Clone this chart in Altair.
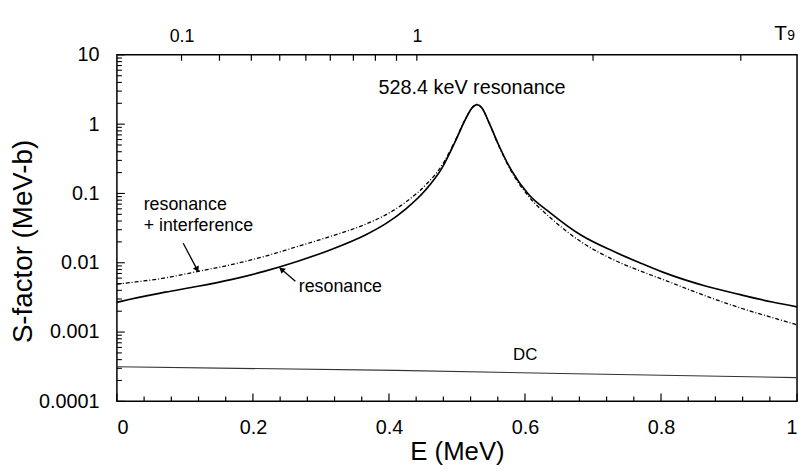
import altair as alt
import pandas as pd

FONT = "Liberation Sans"

# ---- curves ----
res_E = [0.0, 0.0077, 0.0709, 0.1194, 0.1678, 0.2164, 0.2649, 0.3134, 0.3668, 0.3959, 0.425,
         0.4541, 0.4785, 0.4978, 0.5124, 0.5221, 0.5294, 0.5367, 0.5463, 0.5608, 0.5803, 0.6045,
         0.6386, 0.6822, 0.7307, 0.7696, 0.8035, 0.8665, 0.915, 0.9636, 1.0]
res_S = [0.00268, 0.0028, 0.00376, 0.00458, 0.00572, 0.00751, 0.01044, 0.0153, 0.0256, 0.037, 0.060,
         0.113, 0.238, 0.571, 1.17, 1.71, 1.91, 1.71, 1.10, 0.513, 0.213, 0.099,
         0.0513, 0.0251, 0.0145, 0.0099, 0.00726, 0.00458, 0.00349, 0.00271, 0.00231]

int_E = res_E
int_S = [0.0049, 0.00501, 0.00604, 0.00751, 0.00936, 0.0123, 0.0171, 0.0239, 0.0364, 0.0495, 0.0755,
         0.133, 0.26, 0.59, 1.19, 1.73, 1.92, 1.72, 1.09, 0.50, 0.205, 0.093,
         0.0436, 0.0201, 0.011, 0.0076, 0.0057, 0.0033, 0.00225, 0.00162, 0.00127]

dc_E = [0.0, 0.41, 0.673, 1.0]
dc_S = [0.000315, 0.00028, 0.00025, 0.00022]

# ---- axes ----
x_major = [0.0, 0.2, 0.4, 0.6, 0.8, 1.0]
x_minor = [0.04, 0.08, 0.12, 0.16, 0.24, 0.28, 0.32, 0.36, 0.44, 0.48, 0.52, 0.56,
           0.64, 0.68, 0.72, 0.76, 0.84, 0.88, 0.92, 0.96]
y_major = [0.0001, 0.001, 0.01, 0.1, 1, 10]
y_minor = [k * d for d in [0.0001, 0.001, 0.01, 0.1, 1] for k in [2, 3, 4, 5, 6, 7, 8, 9]]
t9_ticks = [0.1, 0.2, 0.3, 0.4, 0.5, 0.6, 0.7, 0.8, 0.9, 1, 2, 3]
t9_labels = [0.1, 1]
T9_COEF = 0.441          # E(MeV) = coef * T9^(2/3)
T9_MAX = (1.0 / T9_COEF) ** 1.5

# ---- annotations ----
ann_text = ["528.4 keV resonance", "resonance", "+ interference", "resonance", "DC"]
ann_E = [0.5221, 0.0393, 0.0393, 0.2674, 0.6004]
ann_S = [2.68, 0.0572, 0.0287, 0.00373, 0.000389]
ann_align = ["center", "left", "left", "left", "center"]
ann_size = [20, 18, 18, 18, 17]

arrow_E = [0.0975, 0.2624]
arrow_S = [0.0191, 0.0054]
arrow_E2 = [0.1194, 0.2397]
arrow_S2 = [0.00751, 0.0084]
head_E = [0.1173, 0.2431]
head_S = [0.0082, 0.00787]
head_angle = [152, 311]

W, H = 687, 350

xs = alt.Scale(domain=[0, 1], nice=False, zero=False)
ys = alt.Scale(type="log", domain=[0.0001, 10], nice=False)

df_res = pd.DataFrame({"E": res_E, "S": res_S})
df_int = pd.DataFrame({"E": int_E, "S": int_S})
df_dc = pd.DataFrame({"E": dc_E, "S": dc_S})

x_axis = alt.Axis(values=x_major, format="~g", ticks=False, domain=False, grid=False,
                  labelFontSize=20, labelPadding=16, labelFont=FONT, labelColor="black",
                  title="E (MeV)", titleFontSize=26, titleFont=FONT, titleFontWeight="normal",
                  titleColor="black", titleY=59, titleBaseline="alphabetic",
                  titleAlign="center")
y_axis = alt.Axis(values=y_major, format="~g", ticks=False, domain=False, grid=False,
                  labelFontSize=20, labelPadding=18, labelFont=FONT, labelColor="black",
                  title="S-factor (MeV-b)", titleFontSize=28, titleFont=FONT,
                  titleFontWeight="normal", titleColor="black",
                  titleX=-94, titleY=188, titleAlign="center", titleBaseline="middle",
                  titleAngle=270)

X = alt.X("E:Q", scale=xs, axis=x_axis)
Y = alt.Y("S:Q", scale=ys, axis=y_axis)

solid = alt.Chart(df_res).mark_line(color="black", strokeWidth=1.7, interpolate="monotone").encode(
    x=X, y=Y)
dashed = alt.Chart(df_int).mark_line(color="black", strokeWidth=1.3, strokeDash=[4, 2, 1, 2],
                                     interpolate="monotone").encode(x=X, y=Y)
dc = alt.Chart(df_dc).mark_line(color="#333333", strokeWidth=1.1).encode(x=X, y=Y)


# inward ticks
def xticks(vals, length):
    d = pd.DataFrame({"E": vals})
    return alt.Chart(d).mark_rule(color="black", strokeWidth=1.2).encode(
        x=X, y=alt.value(H), y2=alt.value(H - length))


def yticks(vals, length):
    d = pd.DataFrame({"S": vals})
    return alt.Chart(d).mark_rule(color="black", strokeWidth=1.1).encode(
        y=Y, x=alt.value(0), x2=alt.value(length))


df_ann = pd.DataFrame({"t": ann_text, "E": ann_E, "S": ann_S, "a": ann_align, "fs": ann_size})
ann_c = alt.Chart(df_ann[df_ann["a"] == "center"]).mark_text(
    font=FONT, color="black", align="center", baseline="alphabetic").encode(
    x=X, y=Y, text="t:N", size=alt.Size("fs:Q", scale=None))
ann_l = alt.Chart(df_ann[df_ann["a"] == "left"]).mark_text(
    font=FONT, color="black", align="left", baseline="alphabetic").encode(
    x=X, y=Y, text="t:N", size=alt.Size("fs:Q", scale=None))

df_arrow = pd.DataFrame({"E": arrow_E, "S": arrow_S, "E2": arrow_E2, "S2": arrow_S2})
shafts = alt.Chart(df_arrow).mark_rule(color="black", strokeWidth=1.3).encode(
    x=X, y=Y, x2="E2:Q", y2="S2:Q")
df_head = pd.DataFrame({"E": head_E, "S": head_S, "ang": head_angle})
heads = alt.Chart(df_head).mark_point(shape="triangle", filled=True, color="black", size=45,
                                      opacity=1).encode(
    x=X, y=Y, angle=alt.Angle("ang:Q", scale=None))

t_letter = alt.Chart(pd.DataFrame({"t": ["T"]})).mark_text(
    font=FONT, fontSize=21, color="black", align="left", baseline="alphabetic").encode(
    x=alt.value(664), y=alt.value(-15), text="t:N")
t_sub = alt.Chart(pd.DataFrame({"t": ["9"]})).mark_text(
    font=FONT, fontSize=14, color="black", align="left", baseline="alphabetic").encode(
    x=alt.value(677), y=alt.value(-15), text="t:N")

main = alt.layer(
    solid, dashed, dc,
    xticks(x_major, 8), xticks(x_minor, 5),
    yticks(y_major, 8), yticks(y_minor, 5),
    shafts, heads, ann_c, ann_l, t_letter, t_sub,
)

t9s = alt.Scale(type="pow", exponent=2 / 3, domain=[0, T9_MAX], nice=False, zero=False)
top = alt.Chart(pd.DataFrame({"T9": t9_ticks})).mark_rule(color="black", strokeWidth=1.2).encode(
    x=alt.X("T9:Q", scale=t9s,
            axis=alt.Axis(orient="top", values=t9_labels, format="~g", ticks=False, domain=False,
                          grid=False, labelFontSize=18, labelPadding=9, labelFont=FONT,
                          labelColor="black", title=None)),
    y=alt.value(0), y2=alt.value(6),
)

chart = alt.layer(main, top).resolve_scale(x="independent").properties(
    width=W, height=H,
    autosize=alt.AutoSizeParams(type="none"),
    padding={"left": 110, "top": 45, "right": 4, "bottom": 65},
    background="white",
).configure_view(stroke="black", strokeWidth=1.5)

chart.save("out.html", embed_options={"renderer": "svg", "actions": False})
